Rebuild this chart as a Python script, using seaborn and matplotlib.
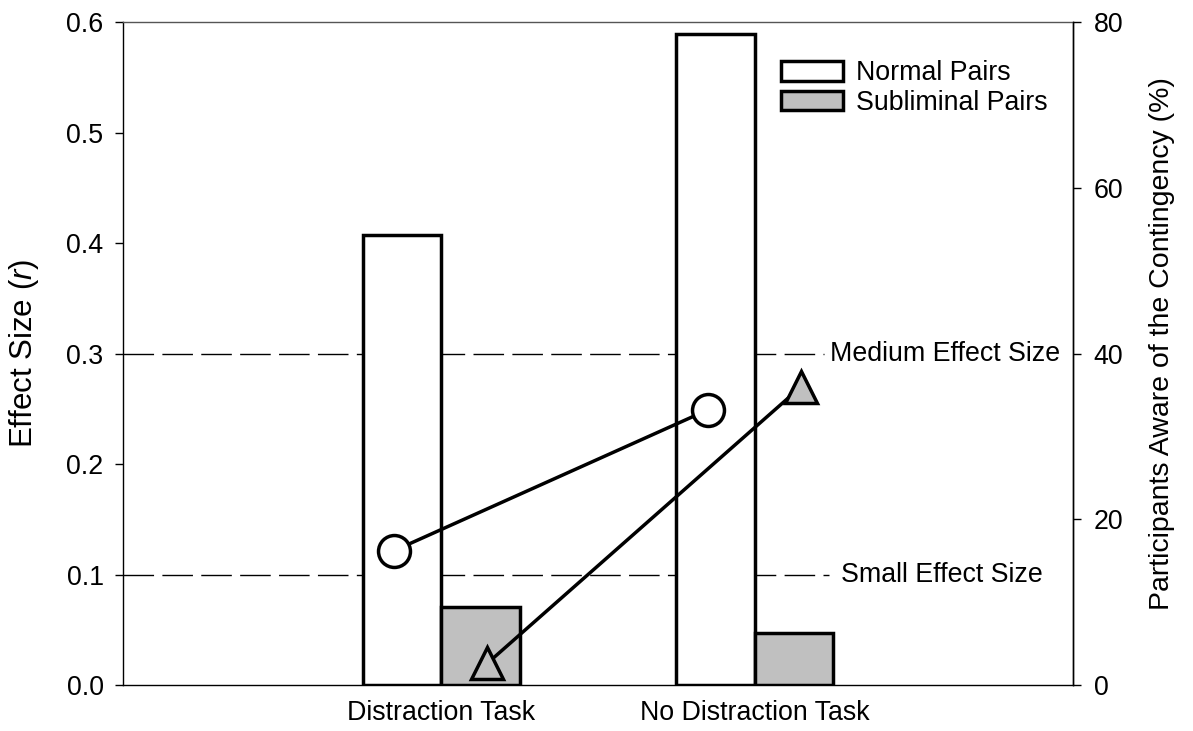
import numpy as np
import pandas as pd
import seaborn as sns
import matplotlib.pyplot as plt
from matplotlib.patches import Patch

tasks = ["Distraction Task", "No Distraction Task"]
pair_types = ["Normal Pairs", "Subliminal Pairs"]
effect_normal = [0.407, 0.589]
effect_subliminal = [0.071, 0.047]
aware_normal = [16.2, 33.2]      # right axis, circles
aware_subliminal = [2.6, 36.0]   # right axis, triangles
ref_levels = [0.3, 0.1]
ref_names = ["Medium Effect Size", "Small Effect Size"]

sns.set_style("ticks")
plt.rcParams["font.family"] = ["Liberation Sans", "DejaVu Sans"]
plt.rcParams["mathtext.fontset"] = "custom"
plt.rcParams["mathtext.it"] = "Liberation Sans:italic"
plt.rcParams["mathtext.rm"] = "Liberation Sans"
for k in ["text.color", "axes.labelcolor", "xtick.color", "ytick.color", "axes.edgecolor"]:
    plt.rcParams[k] = "black"

df = pd.DataFrame({
    "task": tasks * 2,
    "pairs": [pair_types[0]] * 2 + [pair_types[1]] * 2,
    "effect": effect_normal + effect_subliminal,
})

fs = 19.3
fig, ax = plt.subplots(figsize=(11.93, 7.31), dpi=100)
fig.subplots_adjust(left=0.1031, right=0.8994, top=0.9699, bottom=0.0629)

grey = "#c0c0c0"
sns.barplot(data=df, x="task", y="effect", hue="pairs", hue_order=pair_types,
            palette=["white", grey], saturation=1, width=0.5, errorbar=None,
            edgecolor="black", linewidth=2.5, ax=ax, zorder=2)
ax.get_legend().remove()

# reference lines behind the bars
line_ends = [0.738, 0.743]
text_x = [1.24, 1.275]
for lvl, name, xe, tx in zip(ref_levels, ref_names, line_ends, text_x):
    ax.axhline(lvl, xmin=0, xmax=xe, color="black", lw=1, dashes=(22, 6), zorder=1)
    ax.text(tx, lvl, name, fontsize=fs, va="center", ha="left")

ax.set_xlim(-1.013, 2.013)
ax.set_ylim(0, 0.6)
ax.set_yticks(np.arange(0, 0.61, 0.1))
ax.set_yticklabels([f"{v:.1f}" for v in np.arange(0, 0.61, 0.1)])
ax.set_xlabel("")
ax.set_ylabel("Effect Size ($r$)", fontsize=22.5, labelpad=18)
ax.tick_params(axis="y", labelsize=fs, length=6, width=1, pad=8, direction="out")
ax.tick_params(axis="x", labelsize=fs, length=0, pad=11)
for s in ["left", "bottom", "right"]:
    ax.spines[s].set_linewidth(1)
ax.spines["top"].set_visible(True)
ax.spines["top"].set_color("#555555")
ax.spines["top"].set_linewidth(1)

ax2 = ax.twinx()
xpos = np.arange(len(tasks))
sns.lineplot(x=xpos - 0.15, y=aware_normal, ax=ax2, color="black", lw=2.5,
             marker="o", markersize=23, markerfacecolor="white",
             markeredgecolor="black", markeredgewidth=2.5)
sns.lineplot(x=xpos + 0.147, y=aware_subliminal, ax=ax2, color="black", lw=2.5,
             marker="^", markersize=23, markerfacecolor=grey,
             markeredgecolor="black", markeredgewidth=2.5)
ax2.set_ylim(0, 80)
ax2.set_yticks([0, 20, 40, 60, 80])
ax2.set_xlim(-1.013, 2.013)
ax2.set_ylabel("Participants Aware of the Contingency (%)", fontsize=20.5)
ax2.yaxis.set_label_coords(1.08, 0.515)
ax2.tick_params(axis="y", labelsize=fs, length=6, width=1, pad=9, direction="out")
for s in ["left", "bottom", "right", "top"]:
    ax2.spines[s].set_visible(s == "right")
ax2.spines["right"].set_linewidth(1)

handles = [Patch(facecolor="white", edgecolor="black", lw=2.5),
           Patch(facecolor=grey, edgecolor="black", lw=2.5)]
ax2.legend(handles, pair_types, loc="upper left", bbox_to_anchor=(0.693, 0.942),
           frameon=False, fontsize=fs, handlelength=2.3, handleheight=0.75,
           handletextpad=0.5, labelspacing=0.12, borderpad=0, borderaxespad=0)

fig.savefig("out.png", dpi=100)
